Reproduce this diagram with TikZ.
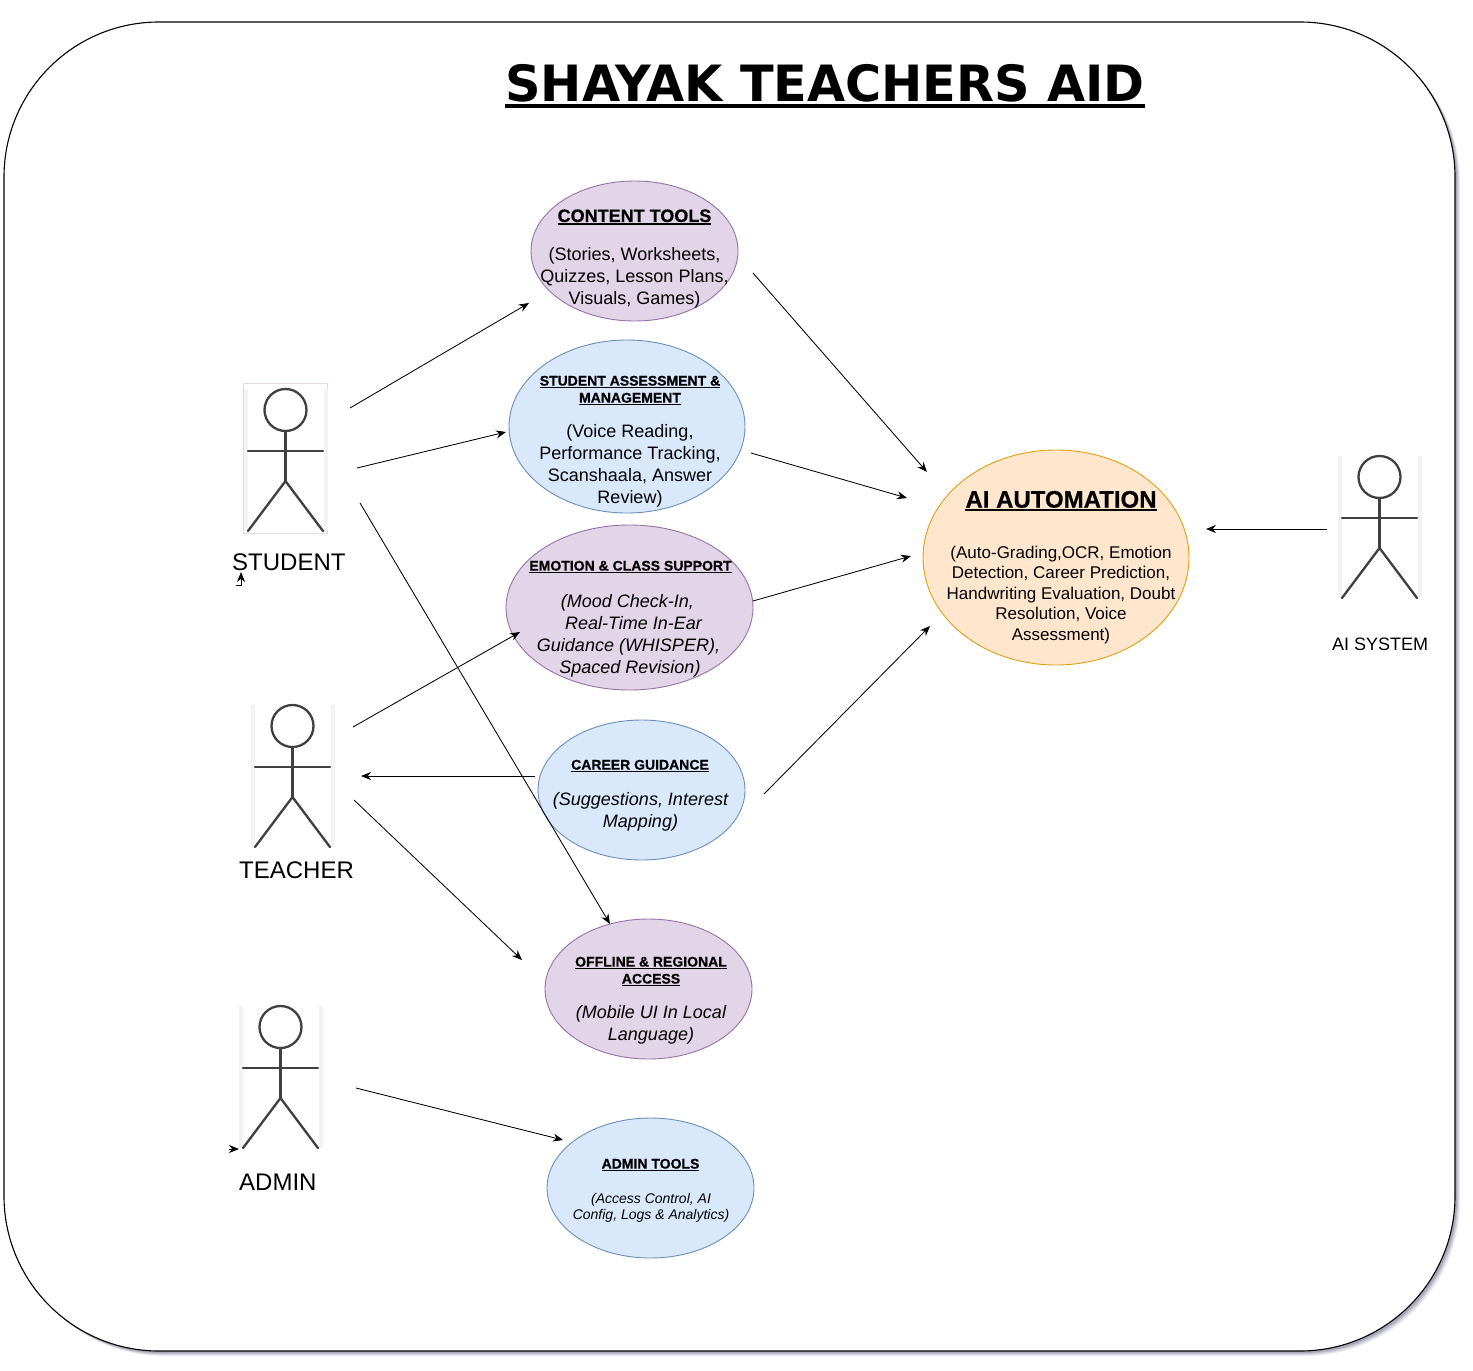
\documentclass[tikz,border=0pt]{standalone}
\usepackage{fontspec}
\setmainfont[BoldFeatures={FakeBold=0.6}]{Liberation Sans}
\newfontfamily\titlefont[FakeStretch=0.986]{DejaVu Sans Bold}
\usetikzlibrary{arrows.meta,shapes.geometric}
\newcommand{\myul}[3]{\setbox0\hbox{#1}\leavevmode\rlap{\rule[-#2]{\wd0}{#3}}\box0}
\newcommand{\ult}[1]{\myul{#1}{2.6pt}{1.5pt}}
\definecolor{purplefill}{HTML}{E1D5E7}
\definecolor{purpleline}{HTML}{9673A6}
\definecolor{bluefill}{HTML}{DAE8FC}
\definecolor{blueline}{HTML}{6C8EBF}
\definecolor{orangefill}{HTML}{FFE6CC}
\definecolor{orangeline}{HTML}{E0A010}
\definecolor{stick}{HTML}{404040}
\definecolor{barcol}{HTML}{F2F3F7}
\definecolor{shadowcol}{HTML}{50506E}
\tikzset{
  ell/.style={ellipse,draw,line width=0.9pt,inner sep=0pt},
  purpleell/.style={ell,fill=purplefill,draw=purpleline},
  blueell/.style={ell,fill=bluefill,draw=blueline},
  orangeell/.style={ell,fill=orangefill,draw=orangeline},
  conn/.style={-{Stealth[length=10pt,width=8pt]},line width=0.85pt,black},
  actorbox/.style={rectangle,inner sep=0pt,minimum width=84pt,minimum height=#1},
  txt/.style={inner sep=0pt,align=center,font=\fontsize{18}{22}\selectfont},
  txtit/.style={txt,font=\fontsize{18}{22}\selectfont\itshape},
  head18/.style={inner sep=0pt,align=center,font=\fontsize{18}{22}\selectfont\bfseries},
  head14/.style={inner sep=0pt,align=center,font=\fontsize{14}{17}\selectfont\bfseries},
  lab24/.style={inner sep=0pt,font=\fontsize{24}{28}\selectfont},
  stickline/.style={draw=stick,line width=2.3pt,line cap=round},
  pics/stickman/.style={code={
    \fill[barcol] (-42,-21) rectangle (-38,121);
    \fill[barcol] (38,-21) rectangle (42,121);
    \draw[stickline] (0,0) circle (21);
    \draw[stickline] (0,21) -- (0,71);
    \draw[stickline] (-37.5,41) -- (37.5,41);
    \draw[stickline] (-37.5,121) -- (0,71) -- (37.5,121);
  }},
}
\begin{document}
\begin{tikzpicture}[x=1pt,y=-1pt]
\useasboundingbox (0,0) rectangle (1473,1371);
\fill[white] (0,0) rectangle (1473,1371);
% frame with soft shadow
\foreach \d/\o in {5/0.10,4/0.12,3/0.16,2/0.22}{
  \fill[shadowcol,opacity=\o,rounded corners=155pt] (4+\d,22+\d) rectangle (1455+\d,1351+\d);
}
\node[draw=black,fill=white,line width=1.1pt,rounded corners=155pt,minimum width=1451pt,minimum height=1329pt,inner sep=0pt] (frame) at (729.5,686.5) {};
\node[inner sep=0pt,font=\fontsize{50}{56}\selectfont\titlefont,anchor=base] (title) at (825,101.7) {\myul{SHAYAK TEACHERS AID}{6pt}{4.2pt}};

% actors
\node[actorbox=150pt,draw=red!20!gray!25,line width=0.5pt] (student) at (285.5,458.5) {};
\pic at (285.5,410) {stickman};
\node[lab24,anchor=base west] (studentlabel) at (232,570) {STUDENT};
\node[actorbox=142pt] (teacher) at (292.5,776) {};
\pic at (292.5,726) {stickman};
\node[lab24,anchor=base west] (teacherlabel) at (239,878) {TEACHER};
\node[actorbox=142pt] (adminactor) at (280.5,1077) {};
\pic at (280.5,1027) {stickman};
\node[lab24,anchor=base west] (adminlabel) at (239,1190) {ADMIN};
\node[actorbox=142pt] (system) at (1379.5,527) {};
\pic at (1379.5,477) {stickman};
\node[inner sep=0pt,font=\fontsize{18}{22}\selectfont,anchor=base] (systemlabel) at (1380,650) {AI SYSTEM};

% ellipses
\node[purpleell,minimum width=207pt,minimum height=140pt] (content) at (634.5,251) {};
\node[blueell,minimum width=236pt,minimum height=173pt] (assess) at (627,426.5) {};
\node[purpleell,minimum width=247pt,minimum height=165pt] (emotion) at (629.5,607.5) {};
\node[blueell,minimum width=207pt,minimum height=140pt] (career) at (641.5,790) {};
\node[purpleell,minimum width=207pt,minimum height=140pt] (offline) at (648.5,989) {};
\node[blueell,minimum width=207pt,minimum height=140pt] (admintools) at (650.5,1188) {};
\node[orangeell,minimum width=266pt,minimum height=215pt] (ai) at (1056,557.5) {};

% ellipse texts
\node[head18] (contenthead) at (634.5,217) {\ult{CONTENT TOOLS}};
\node[txt] (contentbody) at (634.5,278) {(Stories, Worksheets,\\Quizzes, Lesson Plans,\\Visuals, Games)};
\node[head14] (assesshead) at (630,390.5) {\ult{STUDENT ASSESSMENT \&}\\\ult{MANAGEMENT}};
\node[txt] (assessbody) at (630,465.5) {(Voice Reading,\\Performance Tracking,\\Scanshaala, Answer\\Review)};
\node[head14] (emotionhead) at (630.5,567) {\ult{EMOTION \& CLASS SUPPORT}};
\node[txtit] (emotionbody) at (628.5,635.5) {\hspace*{-2pt}(Mood Check-In,\\\hspace*{10pt}Real-Time In-Ear\\Guidance (WHISPER),\\\hspace*{3pt}Spaced Revision)};
\node[head14] (careerhead) at (640,766) {\ult{CAREER GUIDANCE}};
\node[txtit] (careerbody) at (640.5,812) {(Suggestions, Interest\\Mapping)};
\node[head14] (offlinehead) at (651,971.5) {\ult{OFFLINE \& REGIONAL}\\\ult{ACCESS}};
\node[txtit] (offlinebody) at (651,1025) {(Mobile UI In Local\\Language)};
\node[head14] (adminhead) at (650.5,1165) {\ult{ADMIN TOOLS}};
\node[inner sep=0pt,align=center,font=\fontsize{14}{16}\selectfont\itshape] (adminbody) at (651,1208) {(Access Control, AI\\Config, Logs \& Analytics)};
\node[inner sep=0pt,align=center,font=\fontsize{24}{28}\selectfont\bfseries] (aihead) at (1061,501) {\myul{AI AUTOMATION}{3.4pt}{1.9pt}};
\node[inner sep=0pt,align=center,font=\fontsize{17}{20.5}\selectfont] (aibody) at (1061,595) {(Auto-Grading,OCR, Emotion\\Detection, Career Prediction,\\Handwriting Evaluation, Doubt\\Resolution, Voice\\Assessment)};

% connectors
\draw[conn] ([shift={(64.5,-50.5)}]student.center) -- ([shift={(-105.5,52)}]content.center);
\draw[conn] ([shift={(71.5,9.5)}]student.center) -- ([shift={(-121,5.5)}]assess.center);
\draw[conn] ([shift={(74.5,44.5)}]student.center) -- ([shift={(-38.5,-65)}]offline.center);
\draw[conn] ([shift={(60.5,-49)}]teacher.center) -- ([shift={(-109.5,24.5)}]emotion.center);
\draw[conn] ([shift={(-106.5,-14)}]career.center) -- ([shift={(68.5,0)}]teacher.center);
\draw[conn] ([shift={(61.5,24)}]teacher.center) -- ([shift={(-126.5,-29)}]offline.center);
\draw[conn] ([shift={(75.5,11)}]adminactor.center) -- ([shift={(-87.5,-48)}]admintools.center);
\draw[conn] ([shift={(118.5,22)}]content.center) -- ([shift={(-129,-85.5)}]ai.center);
\draw[conn] ([shift={(124,26.5)}]assess.center) -- ([shift={(-149,-59.5)}]ai.center);
\draw[conn] ([shift={(123.5,-6.5)}]emotion.center) -- ([shift={(-145,-1.5)}]ai.center);
\draw[conn] ([shift={(122.5,4)}]career.center) -- ([shift={(-126,68.5)}]ai.center);
\draw[conn] ([shift={(-52.5,2)}]system.center) -- ([shift={(150,-28.5)}]ai.center);

% stray small connectors
\coordinate (strayA) at (236,585);
\coordinate (strayB) at (241,572);
\draw[conn] (strayA) -| (strayB);
\coordinate (strayC) at (229,1149);
\coordinate (strayD) at (239,1149);
\draw[conn] (strayC) -- (strayD);
\end{tikzpicture}
\end{document}
